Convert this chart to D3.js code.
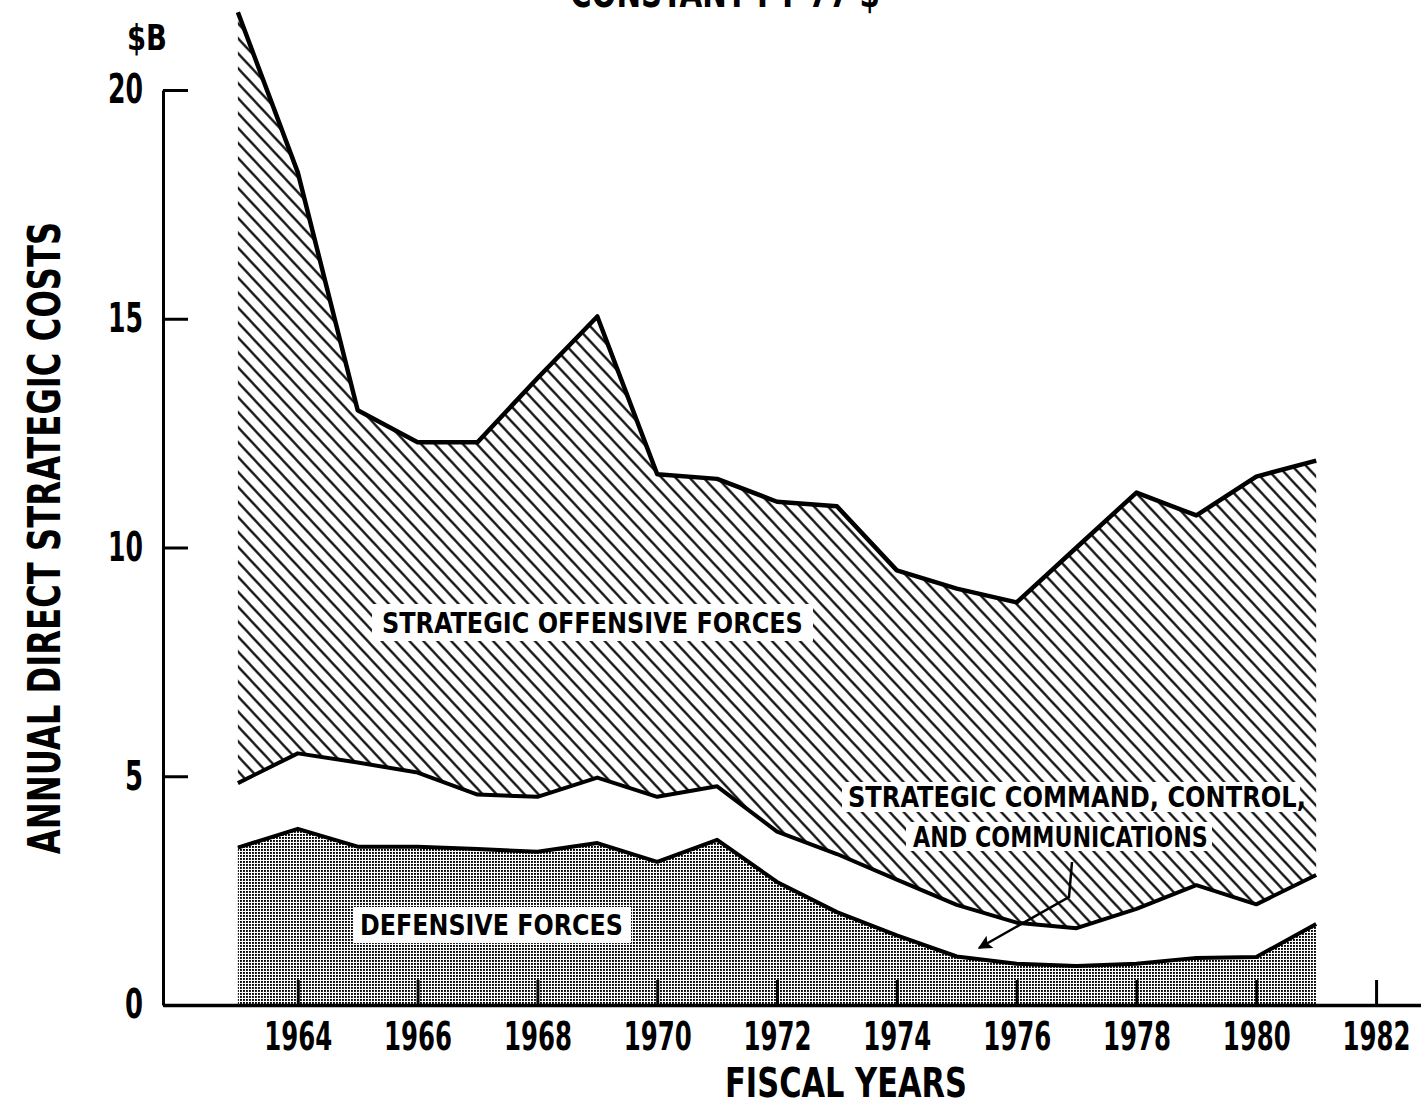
<!DOCTYPE html>
<html lang="en">
<head>
<meta charset="UTF-8">
<title>Annual Direct Strategic Costs</title>
<script src="https://d3js.org/d3.v7.min.js"></script>
<style>
  body { margin: 0; background: #fff; }
  svg { display: block; }
  .txt {
    font-family: "DejaVu Sans Condensed", "Liberation Sans Narrow", sans-serif;
    font-weight: bold;
    fill: #000;
  }
</style>
</head>
<body>
<svg width="1421" height="1108"></svg>
<script>
// values, $B constant FY 77
const years = [1963, 1964, 1965, 1966, 1967, 1968, 1969, 1970, 1971, 1972,
               1973, 1974, 1975, 1976, 1977, 1978, 1979, 1980, 1981];
const defensive = [3.44, 3.85, 3.46, 3.46, 3.41, 3.35, 3.54, 3.13, 3.61, 2.69,
                   2.03, 1.52, 1.06, 0.90, 0.85, 0.90, 1.03, 1.05, 1.77];
const commandControl = [1.41, 1.65, 1.84, 1.62, 1.19, 1.20, 1.43, 1.42, 1.17, 1.10,
                        1.27, 1.22, 1.13, 0.90, 0.83, 1.20, 1.59, 1.15, 1.07];
const offensive = [16.85, 12.70, 7.70, 7.22, 7.70, 9.15, 10.08, 7.05, 6.72, 7.21,
                   7.60, 6.76, 6.91, 7.00, 8.32, 9.10, 8.08, 9.35, 9.06];
const xTicks = [1964, 1966, 1968, 1970, 1972, 1974, 1976, 1978, 1980, 1982];
const yTicks = [0, 5, 10, 15, 20];

const svg = d3.select("svg");

const x = d3.scaleLinear().domain([1961.75, 1982.75]).range([163, 1421]);
const y = d3.scaleLinear().domain([0, 20]).range([1005, 90]);

// squeeze a text horizontally to a given width, around its anchor
function fit(sel, width) {
    sel.each(function() {
        const t = d3.select(this);
        const s = width / this.getComputedTextLength();
        const x0 = +t.attr("x") || 0, y0 = +t.attr("y") || 0;
        t.attr("transform", `translate(${x0},${y0}) scale(${s},1) translate(${-x0},${-y0})`);
    });
}

// patterns
const defs = svg.append("defs");
const hatch = defs.append("pattern")
    .attr("id", "hatch")
    .attr("patternUnits", "userSpaceOnUse")
    .attr("width", 10).attr("height", 10.2)
    .attr("patternTransform", "rotate(47)");
hatch.append("rect").attr("width", 10).attr("height", 10.2).attr("fill", "#fff");
hatch.append("line")
    .attr("x1", 0).attr("x2", 10).attr("y1", 5.1).attr("y2", 5.1)
    .attr("stroke", "#000").attr("stroke-width", 2.2);

const stip = defs.append("pattern")
    .attr("id", "stipple")
    .attr("patternUnits", "userSpaceOnUse")
    .attr("width", 3).attr("height", 3);
stip.append("rect").attr("width", 3).attr("height", 3).attr("fill", "#fff");
stip.append("rect").attr("width", 1.9).attr("height", 1.9).attr("fill", "#000");

const marker = defs.append("marker")
    .attr("id", "head")
    .attr("viewBox", "0 0 10 10")
    .attr("refX", 9).attr("refY", 5)
    .attr("markerWidth", 26).attr("markerHeight", 14)
    .attr("markerUnits", "userSpaceOnUse")
    .attr("orient", "auto");
marker.append("path").attr("d", "M0,0 L10,5 L0,10 L2,5 Z").attr("fill", "#000");

// stacked areas
const rows = years.map((yr, i) => ({
    year: yr,
    defensive: defensive[i],
    command: commandControl[i],
    offensive: offensive[i]
}));
const keys = ["defensive", "command", "offensive"];
const fills = { defensive: "url(#stipple)", command: "#fff", offensive: "url(#hatch)" };
const layers = d3.stack().keys(keys)(rows);

const area = d3.area()
    .x(d => x(d.data.year))
    .y0(d => y(d[0]))
    .y1(d => y(d[1]));

const topLine = d3.line()
    .x(d => x(d.data.year))
    .y(d => y(d[1]));

svg.append("g")
    .selectAll("path")
    .data(layers)
    .join("path")
    .attr("d", area)
    .attr("fill", d => fills[d.key]);

svg.append("g")
    .selectAll("path")
    .data(layers)
    .join("path")
    .attr("d", topLine)
    .attr("fill", "none")
    .attr("stroke", "#000")
    .attr("stroke-width", d => d.key === "offensive" ? 4.5 : 4)
    .attr("stroke-linejoin", "round");

// labels inside the chart
function boxLabel(text, x0, base, len, box) {
    svg.append("rect")
        .attr("x", box[0]).attr("y", box[1])
        .attr("width", box[2] - box[0]).attr("height", box[3] - box[1])
        .attr("fill", "#fff");
    svg.append("text")
        .attr("class", "txt")
        .attr("x", x0).attr("y", base)
        .attr("font-size", 28)
        .text(text)
        .call(fit, len);
}
boxLabel("STRATEGIC OFFENSIVE FORCES", 382, 633, 421, [372, 604, 813, 641]);
boxLabel("DEFENSIVE FORCES", 360, 935, 263, [353, 907, 631, 943]);
boxLabel("STRATEGIC COMMAND, CONTROL,", 848, 807, 458, [842, 782, 1300, 812]);
boxLabel("AND COMMUNICATIONS", 913, 847, 295, [906, 822, 1212, 851]);

// arrow from the C3 label down to the white band
svg.append("path")
    .attr("d", "M1072,862 L1069,897 L979,948")
    .attr("fill", "none")
    .attr("stroke", "#000")
    .attr("stroke-width", 2.5)
    .attr("marker-end", "url(#head)");

// axes
const yAxis = svg.append("g")
    .attr("transform", `translate(${x(1961.75)},0)`)
    .call(d3.axisLeft(y).tickValues(yTicks).tickSize(-25).tickSizeOuter(0).tickPadding(20));
yAxis.select(".domain").attr("stroke-width", 3);
yAxis.selectAll(".tick line").attr("stroke-width", 3);
yAxis.selectAll(".tick text")
    .attr("class", "txt")
    .attr("font-size", 40)
    .each(function(d) { d3.select(this).call(fit, d < 10 ? 18 : 35); });

const xAxis = svg.append("g")
    .attr("transform", `translate(0,${y(0)})`)
    .call(d3.axisBottom(x).tickValues(xTicks).tickFormat(d3.format("d"))
        .tickSize(-25).tickSizeOuter(0));
xAxis.select(".domain").attr("stroke-width", 3.5);
xAxis.selectAll(".tick text")
    .attr("class", "txt")
    .attr("font-size", 39)
    .attr("y", 45).attr("dy", 0)
    .call(fit, 68);
xAxis.selectAll(".tick line").attr("stroke-width", 3);

// titles
svg.append("text")
    .attr("class", "txt")
    .attr("x", 147).attr("y", 50)
    .attr("text-anchor", "middle")
    .attr("font-size", 36)
    .text("$B")
    .call(fit, 40);

const yTitle = svg.append("text")
    .attr("class", "txt")
    .attr("text-anchor", "middle")
    .attr("font-size", 44)
    .text("ANNUAL DIRECT STRATEGIC COSTS");
yTitle.attr("transform", `translate(60,538) rotate(-90) scale(${633 / yTitle.node().getComputedTextLength()},1)`);

svg.append("text")
    .attr("class", "txt")
    .attr("x", 846).attr("y", 1097)
    .attr("text-anchor", "middle")
    .attr("font-size", 40)
    .text("FISCAL YEARS")
    .call(fit, 242);

svg.append("text")
    .attr("class", "txt")
    .attr("x", 725).attr("y", 7)
    .attr("text-anchor", "middle")
    .attr("font-size", 40)
    .text("CONSTANT FY 77 $")
    .call(fit, 310);
</script>
</body>
</html>
